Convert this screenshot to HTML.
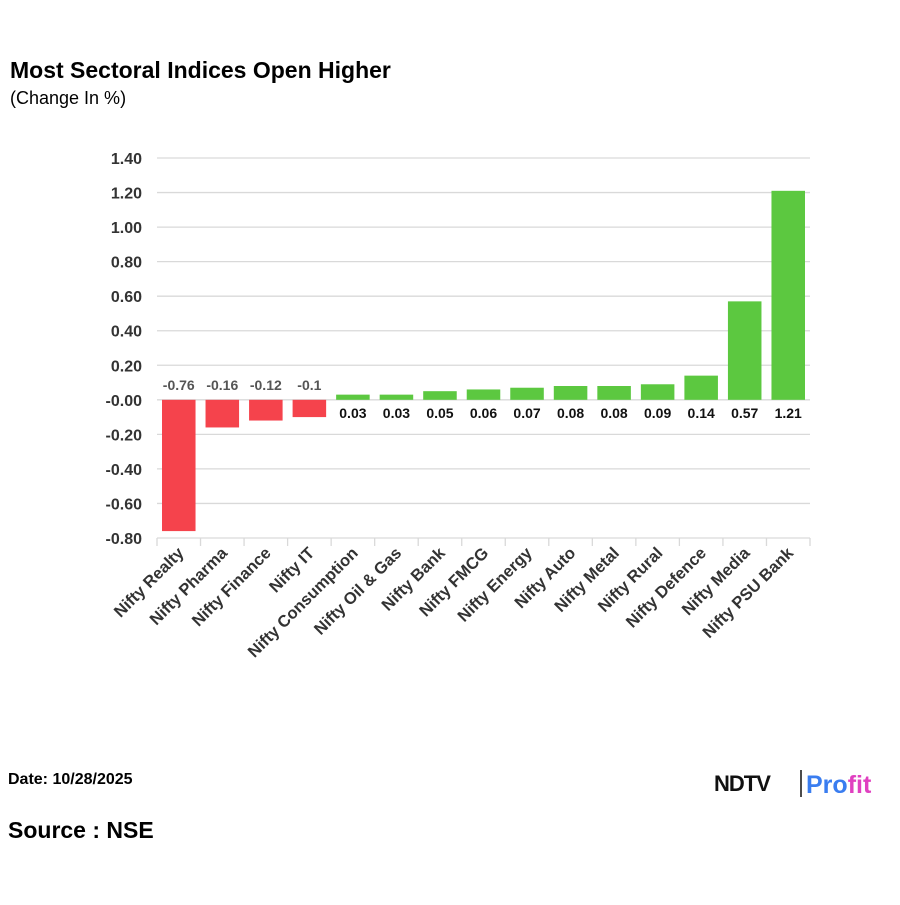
<!DOCTYPE html>
<html><head><meta charset="utf-8"><style>
body{margin:0;background:#fff;width:900px;height:900px;overflow:hidden;font-family:"Liberation Sans",Arial,sans-serif}
</style></head><body>
<svg width="900" height="900">
<text x="10" y="78" font-size="23" font-weight="bold" fill="#000">Most Sectoral Indices Open Higher</text>
<text x="10" y="104" font-size="18" fill="#000">(Change In %)</text>
<g id="grid"></g><g id="bars"></g><g id="xl"></g>
<text x="8" y="784" font-size="16" font-weight="bold" fill="#000">Date: 10/28/2025</text>
<text x="8" y="838" font-size="23" font-weight="bold" fill="#000">Source : NSE</text>
<g>
<text x="714" y="791" font-size="22" font-weight="bold" fill="#111" letter-spacing="-1">NDTV</text>
<line x1="801" y1="770" x2="801" y2="797" stroke="#111" stroke-width="1.5"/>
<text x="806" y="793" font-size="25" font-weight="bold" fill="#3a7df0">Pro<tspan fill="#e040c0">fit</tspan></text>
</g>
</svg>
<script>
const categories=["Nifty Realty","Nifty Pharma","Nifty Finance","Nifty IT","Nifty Consumption","Nifty Oil & Gas","Nifty Bank","Nifty FMCG","Nifty Energy","Nifty Auto","Nifty Metal","Nifty Rural","Nifty Defence","Nifty Media","Nifty PSU Bank"];
const values=[-0.76,-0.16,-0.12,-0.1,0.03,0.03,0.05,0.06,0.07,0.08,0.08,0.09,0.14,0.57,1.21];
const labels=["-0.76","-0.16","-0.12","-0.1","0.03","0.03","0.05","0.06","0.07","0.08","0.08","0.09","0.14","0.57","1.21"];
const ticks=[1.4,1.2,1.0,0.8,0.6,0.4,0.2,0,-0.2,-0.4,-0.6,-0.8];
const tickLabels=["1.40","1.20","1.00","0.80","0.60","0.40","0.20","-0.00","-0.20","-0.40","-0.60","-0.80"];
const NS="http://www.w3.org/2000/svg";
const L=157,R=810,T=158,B=538,yMax=1.4,yMin=-0.8;
const bw=(R-L)/categories.length;
const y=v=>T+(yMax-v)/(yMax-yMin)*(B-T);
const x=i=>L+i*bw;
function mk(t,a,p){const e=document.createElementNS(NS,t);for(const k in a)e.setAttribute(k,a[k]);p.appendChild(e);return e;}
const g=document.getElementById('grid'),bg=document.getElementById('bars'),xl=document.getElementById('xl');
ticks.forEach((t,i)=>{
 const l=mk('line',{x1:L,x2:R,y1:y(t),y2:y(t),stroke:'#d9d9d9','stroke-width':1.3},g);
 
 
 const tx=mk('text',{x:142,y:y(t)+6,'text-anchor':'end','font-size':16,'font-weight':'bold',fill:'#333'},g);
 tx.textContent=tickLabels[i];
 
 
});
for(let i=0;i<=categories.length;i++){mk('line',{x1:x(i),x2:x(i),y1:B,y2:B+8,stroke:'#d9d9d9','stroke-width':1.3},g);}
values.forEach((v,i)=>{
 const y0=y(0),yv=y(v);
 const r=mk('rect',{x:x(i)+5,width:bw-10,y:Math.min(y0,yv),height:Math.abs(yv-y0),fill:v<0?'#f5434c':'#5cc840'},bg);
 
 
 const t=mk('text',{x:x(i)+bw/2,'text-anchor':'middle','font-size':14,'font-weight':'bold',fill:v<0?'#555':'#111',y:v<0?y0-10:y0+18},bg);
 t.textContent=labels[i];
 
 
 const cx=x(i)+bw/2+6,cy=B+16;
 const c=mk('text',{x:cx,y:cy,'text-anchor':'end','font-size':16.5,'font-weight':'bold',fill:'#333',transform:`rotate(-45 ${cx} ${cy})`},xl);
 c.textContent=categories[i];
 
 
});
</script>
</body></html>
